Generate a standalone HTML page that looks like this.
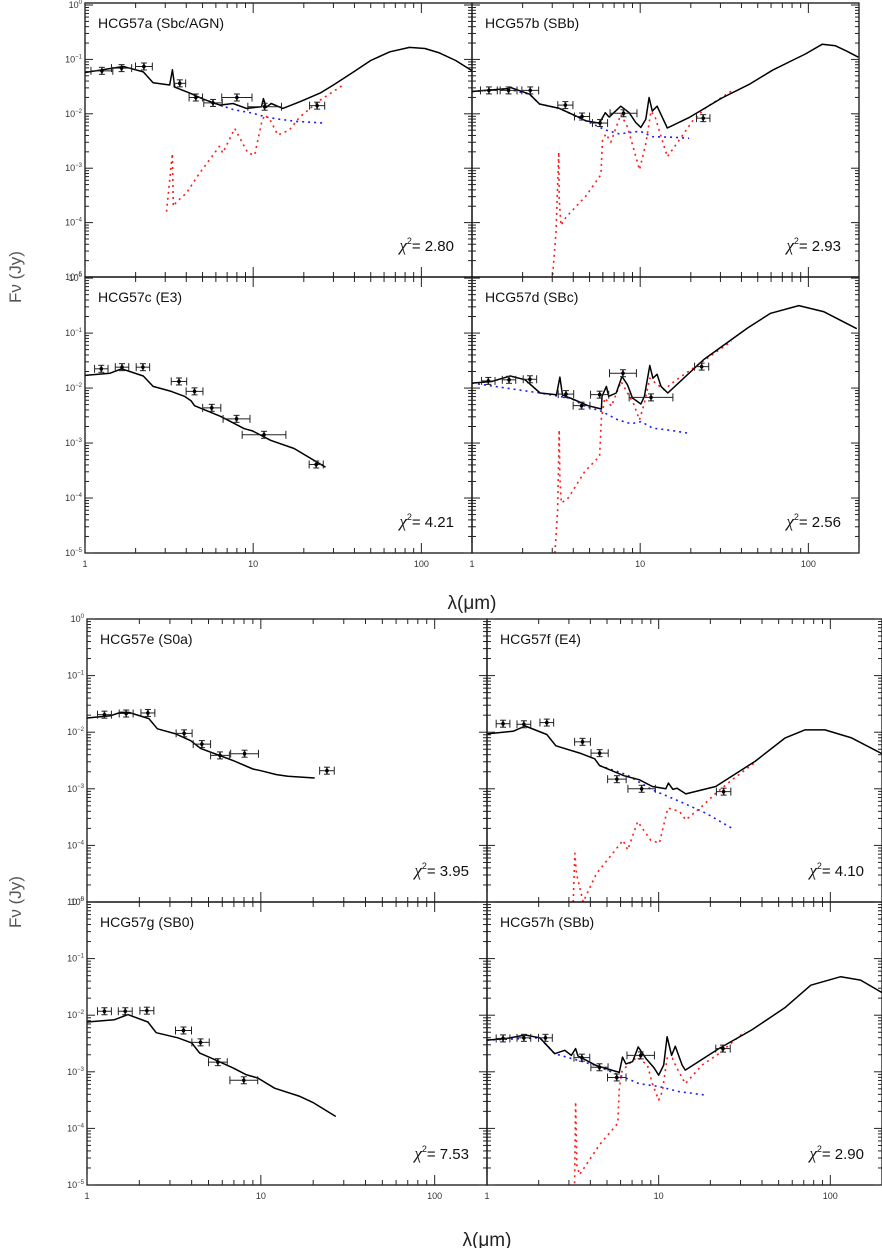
<!DOCTYPE html>
<html><head><meta charset="utf-8">
<style>
html,body{margin:0;padding:0;background:#fff;}
svg{display:block;font-family:"Liberation Sans","DejaVu Sans",sans-serif;}
</style></head>
<body>
<svg id="fig" width="882" height="1248" viewBox="0 0 882 1248" xmlns="http://www.w3.org/2000/svg"></svg>
<script>
// ---- data: [wavelength (micron), log10 flux (Jy)] ----
const a_model=[[1,-1.24],[1.69,-1.13],[2.22,-1.23],[2.54,-1.43],[3.19,-1.47],[3.31,-1.19],[3.42,-1.51],[4.2,-1.62],[5.04,-1.73],[6.33,-1.84],[7.59,-1.81],[9.12,-1.9],[11.2,-1.87],[11.5,-1.72],[11.96,-1.88],[12.8,-1.81],[15,-1.9],[18.9,-1.78],[25,-1.62],[30,-1.47],[40,-1.22],[50,-1.02],[65,-0.86],[85,-0.78],[105,-0.8],[128,-0.88],[160,-1.02],[200,-1.21]];
const a_blue=[[5.04,-1.73],[6.33,-1.84],[7.6,-1.92],[10,-1.99],[11.96,-2.06],[14.3,-2.1],[18,-2.14],[27,-2.17]];
const a_red=[[3.05,-3.8],[3.31,-2.73],[3.35,-3.7],[3.5,-3.62],[4.0,-3.46],[4.8,-3.09],[5.77,-2.76],[6.3,-2.6],[6.6,-2.72],[7.76,-2.27],[9.3,-2.72],[10.2,-2.76],[11.2,-2.17],[11.7,-2.02],[12.6,-2.11],[14,-2.39],[16.4,-2.3],[18.9,-2.06],[25,-1.75],[35,-1.45]];
const a_obs=[[1.26,-1.21,0.065],[1.65,-1.16,0.06],[2.24,-1.13,0.05],[3.66,-1.44,0.035],[4.56,-1.7,0.04],[5.77,-1.8,0.055],[8.0,-1.7,0.09],[11.7,-1.87,0.1],[24,-1.85,0.045]];

const b_model=[[1,-1.59],[1.6,-1.54],[1.71,-1.52],[2.2,-1.64],[2.52,-1.82],[3.31,-1.9],[4.35,-2.07],[4.76,-2.13],[5.72,-2.17],[6.2,-1.98],[6.54,-2.06],[7.67,-1.86],[8.6,-1.98],[9.4,-2.16],[10.1,-2.25],[10.8,-2.1],[11.3,-1.7],[11.8,-1.95],[12.6,-1.86],[14.5,-2.26],[19.5,-2.07],[30.6,-1.71],[45,-1.45],[61,-1.2],[80,-1.02],[96,-0.9],[121,-0.72],[145,-0.75],[170,-0.85],[198,-0.96]];
const b_blue=[[1,-1.59],[1.6,-1.54],[2.2,-1.64],[2.52,-1.82],[3.31,-1.9],[4.76,-2.13],[6.25,-2.3],[7.5,-2.37],[10,-2.32],[11.8,-2.42],[15.5,-2.43],[19.5,-2.45]];
const b_red=[[3.02,-4.96],[3.16,-4.17],[3.28,-2.7],[3.3,-3.57],[3.38,-4.05],[3.62,-3.9],[4.76,-3.51],[5.84,-3.12],[5.97,-2.49],[6.25,-2.37],[6.7,-2.52],[7.67,-2.01],[8.4,-2.24],[9.9,-3.03],[10.8,-2.55],[11.6,-1.95],[12.3,-2.07],[14.5,-2.79],[17,-2.49],[20.5,-2.13],[24.5,-1.89],[35,-1.58]];
const b_obs=[[1.26,-1.57,0.05],[1.65,-1.57,0.05],[2.22,-1.57,0.05],[3.59,-1.84,0.045],[4.51,-2.05,0.045],[5.77,-2.17,0.045],[7.96,-1.99,0.08],[23.7,-2.08,0.04]];

const c_model=[[1,-1.77],[1.41,-1.73],[1.65,-1.65],[2.22,-1.78],[2.54,-1.97],[3.26,-2.06],[3.9,-2.15],[4.27,-2.23],[4.48,-2.32],[6.44,-2.52],[8.85,-2.74],[9.9,-2.78],[12.7,-2.95],[17.5,-3.1],[26.9,-3.44]];
const c_obs=[[1.25,-1.65,0.04],[1.66,-1.62,0.04],[2.21,-1.62,0.04],[3.62,-1.88,0.046],[4.48,-2.06,0.05],[5.67,-2.36,0.054],[7.96,-2.56,0.08],[11.6,-2.85,0.13],[23.7,-3.39,0.042]];

const d_model=[[1,-1.91],[1.31,-1.88],[1.69,-1.78],[2.07,-1.85],[2.54,-2.09],[3.18,-2.12],[3.33,-1.8],[3.45,-2.13],[3.9,-2.19],[4.9,-2.32],[5.88,-2.38],[5.93,-2.15],[6.3,-1.97],[6.5,-2.15],[7.2,-2.09],[7.8,-1.79],[8.4,-1.94],[9,-2.18],[10.1,-2.29],[10.6,-2.15],[11.4,-1.59],[11.9,-1.82],[12.6,-1.75],[13.3,-1.97],[14.6,-2.09],[23.9,-1.48],[43.4,-0.91],[59.6,-0.64],[87.7,-0.5],[123,-0.61],[194,-0.92]];
const d_blue=[[1,-1.91],[2.54,-2.09],[3.9,-2.19],[4.68,-2.33],[5.88,-2.42],[7.37,-2.58],[8.85,-2.65],[10.1,-2.61],[11.9,-2.73],[15.3,-2.77],[19.1,-2.82]];
const d_red=[[3.11,-5],[3.23,-4.24],[3.3,-2.76],[3.33,-3.64],[3.4,-4.09],[3.73,-4],[4.68,-3.52],[5.74,-3.24],[5.88,-2.55],[6.16,-2.18],[6.74,-2.33],[7.7,-1.88],[8.4,-2.09],[9.1,-2.27],[9.9,-2.58],[10.6,-2.27],[11.4,-1.82],[12.7,-1.94],[13.9,-2.03],[15.9,-1.88],[23.9,-1.5],[35,-1.15]];
const d_obs=[[1.25,-1.87,0.04],[1.66,-1.85,0.04],[2.21,-1.84,0.04],[3.62,-2.11,0.046],[4.48,-2.32,0.05],[5.74,-2.12,0.054],[7.9,-1.73,0.08],[11.6,-2.17,0.13],[23.2,-1.61,0.042]];

const e_model=[[1,-1.75],[1.36,-1.71],[1.56,-1.65],[1.74,-1.65],[2.27,-1.76],[2.54,-1.94],[3.24,-2.03],[3.95,-2.15],[4.52,-2.29],[5.9,-2.42],[7.05,-2.51],[9,-2.65],[10,-2.68],[12.3,-2.75],[14.3,-2.78],[20.4,-2.81]];
const e_obs=[[1.26,-1.69,0.04],[1.68,-1.67,0.04],[2.24,-1.66,0.04],[3.62,-2.02,0.046],[4.58,-2.21,0.05],[5.82,-2.41,0.054],[8.06,-2.38,0.08],[24,-2.68,0.042]];

const f_model=[[1,-2.03],[1.43,-1.98],[1.67,-1.89],[2.23,-2.04],[2.52,-2.24],[3.47,-2.37],[4.24,-2.47],[4.53,-2.59],[6.3,-2.77],[7.7,-2.84],[9.2,-2.96],[11,-3.0],[11.4,-2.9],[12.1,-3.01],[12.8,-2.99],[14.4,-3.09],[21.5,-2.96],[36.6,-2.51],[54.6,-2.1],[71,-1.96],[93,-1.96],[133,-2.1],[200,-2.38]];
const f_blue=[[4.53,-2.59],[6.5,-2.75],[9.2,-3.02],[13.2,-3.22],[18.8,-3.43],[26.8,-3.7]];
const f_red=[[3.18,-5],[3.25,-4.14],[3.32,-4.5],[3.63,-5],[4.34,-4.5],[5.4,-4.14],[6.2,-3.91],[6.6,-4.08],[7.55,-3.58],[9,-3.91],[10.1,-3.96],[11.3,-3.34],[13.2,-3.4],[14.4,-3.55],[17.9,-3.31],[21.5,-3.08],[26.8,-2.84],[36.6,-2.53]];
const f_obs=[[1.24,-1.85,0.04],[1.64,-1.86,0.04],[2.23,-1.83,0.04],[3.6,-2.17,0.046],[4.53,-2.37,0.05],[5.71,-2.83,0.054],[7.96,-3.0,0.08],[23.9,-3.05,0.042]];

const g_model=[[1,-2.12],[1.44,-2.08],[1.72,-1.99],[2.24,-2.12],[2.5,-2.31],[3.33,-2.4],[4,-2.49],[4.45,-2.67],[5.3,-2.77],[6.9,-2.93],[8.2,-3.05],[9.6,-3.11],[12,-3.29],[16.6,-3.43],[19.9,-3.54],[27,-3.79]];
const g_obs=[[1.26,-1.93,0.04],[1.66,-1.93,0.04],[2.21,-1.92,0.04],[3.59,-2.27,0.046],[4.5,-2.48,0.05],[5.66,-2.83,0.054],[7.98,-3.15,0.08]];

const h_model=[[1,-2.44],[1.31,-2.41],[1.67,-2.35],[2.03,-2.4],[2.48,-2.68],[2.84,-2.62],[3.1,-2.71],[3.28,-2.59],[3.39,-2.72],[4.33,-2.89],[5.9,-3.01],[6.16,-2.74],[6.44,-2.86],[7.05,-2.82],[7.6,-2.56],[8.4,-2.76],[9.4,-2.93],[10,-3.06],[10.7,-2.88],[11.2,-2.38],[11.9,-2.71],[12.5,-2.55],[13.7,-2.88],[14.3,-2.97],[22.4,-2.59],[34.9,-2.26],[54.3,-1.87],[77,-1.47],[115,-1.32],[150,-1.38],[200,-1.6]];
const h_blue=[[1,-2.44],[2.03,-2.4],[2.48,-2.68],[4.33,-2.89],[5.9,-3.06],[7.7,-3.21],[10.05,-3.26],[13.1,-3.35],[18.7,-3.41]];
const h_red=[[3.24,-4.97],[3.28,-3.53],[3.34,-4.65],[3.46,-4.82],[4.52,-4.29],[5.78,-3.91],[5.9,-3.29],[6.1,-3.0],[6.6,-2.88],[7.5,-2.74],[8.6,-2.88],[9.2,-3.21],[10,-3.5],[10.5,-3.35],[11.2,-2.76],[12,-2.76],[12.8,-2.94],[14.3,-3.21],[17.9,-2.88],[22.4,-2.68],[31.8,-2.29]];
const h_obs=[[1.24,-2.41,0.04],[1.64,-2.4,0.04],[2.19,-2.4,0.04],[3.57,-2.75,0.046],[4.52,-2.92,0.05],[5.7,-3.1,0.054],[7.86,-2.71,0.08],[23.7,-2.59,0.042]];

const panelTitles=["HCG57a (Sbc/AGN)","HCG57b (SBb)","HCG57c (E3)","HCG57d (SBc)","HCG57e (S0a)","HCG57f (E4)","HCG57g (SB0)","HCG57h (SBb)"];
const chiValues=["2.80","2.93","4.21","2.56","3.95","4.10","7.53","2.90"];
const yTickExp=[0,-1,-2,-3,-4,-5];
const xTickVals=[1,10,100];

const NS="http://www.w3.org/2000/svg";
const svg=document.getElementById('fig');
function mk(tag,attrs,parent){const e=document.createElementNS(NS,tag);for(const k in attrs)e.setAttribute(k,attrs[k]);(parent||svg).appendChild(e);return e;}

const layout=[
 {x:85,y:3,w:387,h:274,ymax:0.037,left:true,bottom:false},
 {x:472,y:3,w:387,h:274,ymax:0.037,left:false,bottom:false},
 {x:85,y:277,w:387,h:276,ymax:0.02,left:true,bottom:true},
 {x:472,y:277,w:387,h:276,ymax:0.02,left:false,bottom:true},
 {x:87,y:619,w:400,h:283,ymax:0,left:true,bottom:false},
 {x:487,y:619,w:395,h:283,ymax:0,left:false,bottom:false},
 {x:87,y:902,w:400,h:283,ymax:0,left:true,bottom:true},
 {x:487,y:902,w:395,h:283,ymax:0,left:false,bottom:true}
];
const series=[
 {m:a_model,b:a_blue,r:a_red,o:a_obs},
 {m:b_model,b:b_blue,r:b_red,o:b_obs},
 {m:c_model,b:null,r:null,o:c_obs},
 {m:d_model,b:d_blue,r:d_red,o:d_obs},
 {m:e_model,b:null,r:null,o:e_obs},
 {m:f_model,b:f_blue,r:f_red,o:f_obs},
 {m:g_model,b:null,r:null,o:g_obs},
 {m:h_model,b:h_blue,r:h_red,o:h_obs}
];
const LX=Math.log10(200);

layout.forEach((L,i)=>{
  const id='abcdefgh'[i];
  const sx=v=>L.x+Math.log10(v)/LX*L.w;
  const sy=lf=>L.y+(L.ymax-lf)/(L.ymax+5)*L.h;
  const g=mk('g',{});
  
  
  const cp=mk('clipPath',{id:'cp'+i},g);
  mk('rect',{x:L.x,y:L.y,width:L.w,height:L.h},cp);
  const plot=mk('g',{'clip-path':'url(#cp'+i+')'},g);
  const S=series[i];
  const line=(arr,stroke,dash,name,w)=>{
    const p=mk('polyline',{points:arr.map(d=>sx(d[0]).toFixed(1)+','+sy(d[1]).toFixed(1)).join(' '),fill:'none',stroke:stroke,'stroke-width':w,'stroke-linejoin':'round'},plot);
    if(dash)p.setAttribute('stroke-dasharray',dash);
    
    
  };
  if(S.b) line(S.b,'#1a1aff','2,4','stellar-component-line',1.6);
  if(S.r) line(S.r,'#ff1a1a','2,4','dust-component-line',1.6);
  line(S.m,'#000','', 'total-model-line',1.5);
  S.o.forEach(d=>{
    const og=mk('g',{stroke:'#222','stroke-width':1},plot);
    
    
    const cx=sx(d[0]),cy=sy(d[1]),x1=sx(d[0]*Math.pow(10,-d[2])),x2=sx(d[0]*Math.pow(10,d[2]));
    mk('line',{x1:x1,y1:cy,x2:x2,y2:cy},og);
    mk('line',{x1:x1,y1:cy-4,x2:x1,y2:cy+4},og);
    mk('line',{x1:x2,y1:cy-4,x2:x2,y2:cy+4},og);
    mk('line',{x1:cx,y1:cy-3.5,x2:cx,y2:cy+3.5,'stroke-width':1.6},og);
    mk('line',{x1:cx-3,y1:cy-3.5,x2:cx+3,y2:cy-3.5},og);
    mk('line',{x1:cx-3,y1:cy+3.5,x2:cx+3,y2:cy+3.5},og);
    mk('circle',{cx:cx,cy:cy,r:1.8,fill:'#000',stroke:'none'},og);
  });
  // frame
  const fr=mk('rect',{x:L.x,y:L.y,width:L.w,height:L.h,fill:'none',stroke:'#111','stroke-width':1.3},g);
  
  
  // ticks
  const tk=mk('g',{stroke:'#222','stroke-width':1},g);
  for(let dec=0;dec<3;dec++)for(let m=1;m<10;m++){
    const v=m*Math.pow(10,dec); if(v>200)break;
    const X=sx(v), len=m===1?10:5;
    mk('line',{x1:X,y1:L.y+L.h,x2:X,y2:L.y+L.h-len},tk);
    mk('line',{x1:X,y1:L.y,x2:X,y2:L.y+len},tk);
  }
  for(let e=-5;e<=0;e++)for(let m=1;m<10;m++){
    const lf=e+Math.log10(m); if(lf>L.ymax+1e-6)break;
    const Y=sy(lf), len=m===1?8:4;
    mk('line',{x1:L.x,y1:Y,x2:L.x+len,y2:Y},tk);
    mk('line',{x1:L.x+L.w,y1:Y,x2:L.x+L.w-len,y2:Y},tk);
  }
  // title
  const t=mk('text',{x:L.x+13,y:L.y+25,'font-size':14,fill:'#111'},g);
  t.textContent=panelTitles[i];
  
  
  const c=mk('text',{x:L.x+L.w-18,y:L.y+L.h-26,'font-size':15,fill:'#111','text-anchor':'end'},g);
  c.innerHTML='<tspan font-family="Liberation Serif, serif" font-style="italic" font-size="17">χ</tspan><tspan font-size="9" dy="-7">2</tspan><tspan dy="7">= '+chiValues[i]+'</tspan>';
  
  
  if(L.left){
    yTickExp.forEach(e=>{
      const tl=mk('text',{x:L.x-3,y:sy(e)+3,'font-size':9,fill:'#333','text-anchor':'end'},g);
      tl.innerHTML='10<tspan font-size="6" dy="-4">'+(e===0?'0':'−'+(-e))+'</tspan>';
      
      
    });
  }
  if(L.bottom){
    xTickVals.forEach(v=>{
      const xl=mk('text',{x:sx(v),y:L.y+L.h+14,'font-size':9,fill:'#333','text-anchor':'middle'},g);
      xl.textContent=String(v);
      
      
    });
  }
});
[[277,'y-axis-title-top'],[902,'y-axis-title-bottom']].forEach(a=>{
  const t=mk('text',{x:0,y:0,'font-size':17,fill:'#555','text-anchor':'middle',transform:'translate(21,'+a[0]+') rotate(-90)'});
  t.textContent='Fν (Jy)';
  
  
});
[[609,'x-axis-title-top',472],[1246,'x-axis-title-bottom',487]].forEach(a=>{
  const t=mk('text',{x:a[2],y:a[0],'font-size':19,fill:'#222','text-anchor':'middle'});
  t.textContent='λ(μm)';
  
  
});
</script>
</body></html>
